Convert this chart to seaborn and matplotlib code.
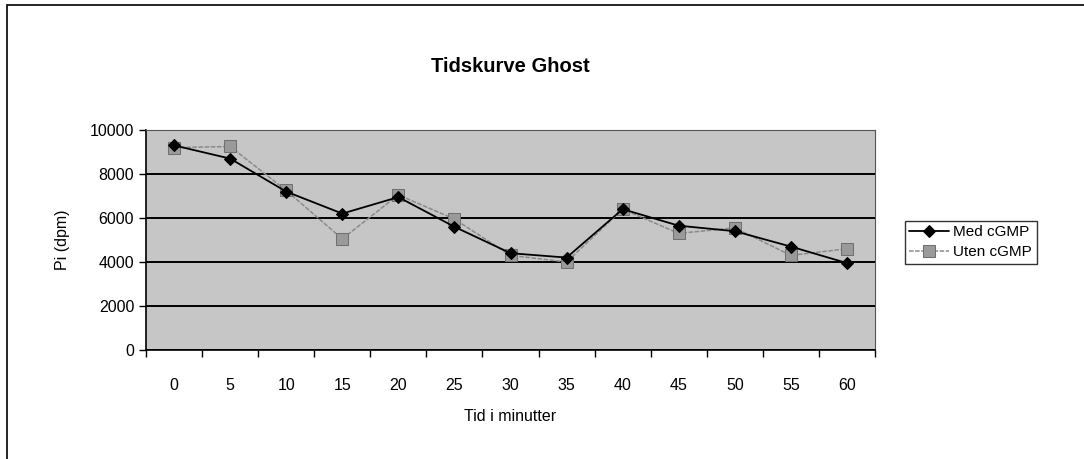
import pandas as pd
import seaborn as sns
import matplotlib.pyplot as plt
from matplotlib.patches import Rectangle

# data
tid = [0, 5, 10, 15, 20, 25, 30, 35, 40, 45, 50, 55, 60]
med_cgmp = [9300, 8700, 7200, 6200, 6950, 5600, 4400, 4200, 6400, 5650, 5400, 4700, 3950]
uten_cgmp = [9200, 9250, 7250, 5050, 7050, 5950, 4300, 4000, 6400, 5300, 5550, 4300, 4600]
yticks = [0, 2000, 4000, 6000, 8000, 10000]

df = pd.DataFrame({'tid': tid, 'Med cGMP': med_cgmp, 'Uten cGMP': uten_cgmp})

sns.set_style('white')
plt.rcParams['font.family'] = ['Liberation Sans', 'DejaVu Sans']
plt.rcParams['text.color'] = 'black'
plt.rcParams['axes.labelcolor'] = 'black'
plt.rcParams['xtick.color'] = 'black'
plt.rcParams['ytick.color'] = 'black'

fig = plt.figure(figsize=(10.84, 4.59), dpi=100)
ax = fig.add_axes([0.1347, 0.2375, 0.6725, 0.4793])
ax.set_facecolor('#c6c6c6')

# chart frame
fig.patches.append(Rectangle((0.006, -0.05), 1.1, 1.04, transform=fig.transFigure,
                             fill=False, edgecolor='black', linewidth=1.2))

sns.lineplot(x='tid', y='Med cGMP', data=df, ax=ax, color='black', linewidth=1.3,
             marker='D', markersize=6.5, markeredgecolor='black', label='Med cGMP', zorder=4)
sns.lineplot(x='tid', y='Uten cGMP', data=df, ax=ax, color='#8a8a8a', linewidth=1.1,
             linestyle=(0, (3, 1)), marker='s', markersize=9, markerfacecolor='#9a9a9a',
             markeredgecolor='#707070', label='Uten cGMP', zorder=3)

ax.set_xlim(-2.5, 62.5)
ax.set_ylim(0, 10000)
ax.set_xticks(tid)
ax.set_xticklabels([str(t) for t in tid])
ax.set_xticks([t - 2.5 for t in tid] + [62.5], minor=True)
ax.tick_params(axis='x', which='major', length=0, pad=20, labelsize=11.5)
ax.tick_params(axis='x', which='minor', length=5, width=1, direction='out', bottom=True)
ax.set_yticks(yticks)
ax.tick_params(axis='y', length=5, width=1, direction='out', left=True, labelsize=11.5)
ax.grid(axis='y', color='black', linewidth=1.4)
ax.set_axisbelow(True)
for side in ['left', 'bottom']:
    ax.spines[side].set_color('black')
    ax.spines[side].set_linewidth(1.2)
for side in ['top', 'right']:
    ax.spines[side].set_color('#555555')
    ax.spines[side].set_linewidth(0.8)

ax.set_title('Tidskurve Ghost', fontsize=14.5, fontweight='bold', pad=42)
ax.set_xlabel('Tid i minutter', fontsize=11.5, labelpad=12)
ax.set_ylabel('Pi (dpm)', fontsize=11.5, labelpad=14)

leg = ax.legend(loc='center left', bbox_to_anchor=(1.03, 0.49), frameon=True,
                fancybox=False, edgecolor='black', fontsize=11, handlelength=2.6,
                borderpad=0.3, labelspacing=0.4, handletextpad=0.3)
leg.get_frame().set_linewidth(1.0)

fig.savefig('out.png', dpi=100, facecolor='white')
